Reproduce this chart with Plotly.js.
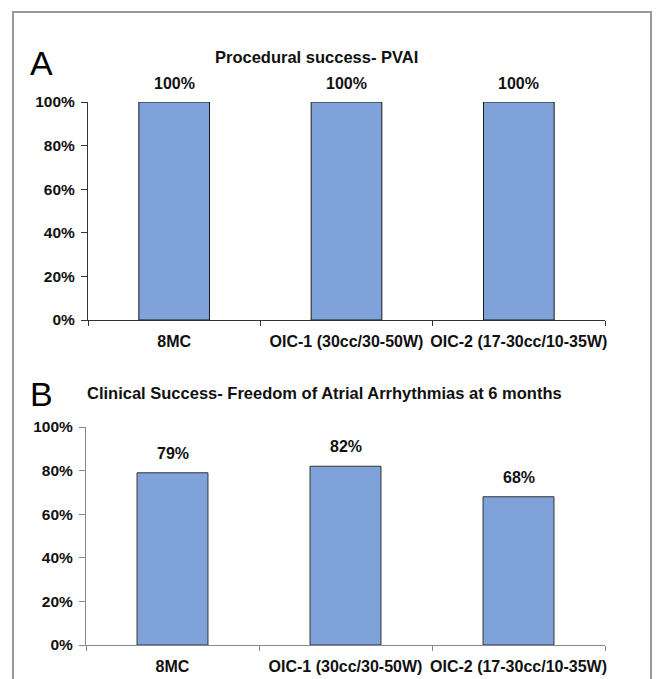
<!DOCTYPE html>
<html>
<head>
<meta charset="utf-8">
<script src="https://cdn.plot.ly/plotly-3.0.1.min.js"></script>
<style>html,body{margin:0;padding:0;background:#fff;}#chart{width:658px;height:679px;}</style>
</head>
<body>
<div id="chart"></div>
<script>
const categories = ['8MC', 'OIC-1 (30cc/30-50W)', 'OIC-2 (17-30cc/10-35W)'];
const proceduralSuccess = [100, 100, 100];
const clinicalSuccess = [79, 82, 68];
const yTickVals = [0, 20, 40, 60, 80, 100];
const yTickText = ['0%', '20%', '40%', '60%', '80%', '100%'];
const titleA = 'Procedural success- PVAI';
const titleB = 'Clinical Success- Freedom of Atrial Arrhythmias at 6 months';

const W = 658, H = 679;
const px = v => v / W;
const py = v => (H - v) / H;
const FONT = 'Liberation Sans, Arial, sans-serif';
const barColor = '#7ea2d9';

const traces = [
  {type: 'bar', x: categories, y: proceduralSuccess, xaxis: 'x', yaxis: 'y',
   width: 0.41, marker: {color: barColor, line: {color: '#1a1a1a', width: 1}}, hoverinfo: 'none'},
  {type: 'bar', x: categories, y: clinicalSuccess, xaxis: 'x2', yaxis: 'y2',
   width: 0.41, marker: {color: barColor, line: {color: '#333', width: 1}}, hoverinfo: 'none'}
];

const xTickFont = {family: FONT, size: 16, color: '#111', weight: 'bold'};
const yTickFont = {family: FONT, size: 15.5, color: '#111', weight: 'bold'};
const valueFont = {family: FONT, size: 16, color: '#111', weight: 'bold'};
const titleFont = {family: FONT, size: 16.5, color: '#111', weight: 'bold'};

function xAxis(domain, anchor, lineColor) {
  return {domain: domain, anchor: anchor, type: 'category', showgrid: false, zeroline: false,
    showline: true, linecolor: lineColor, linewidth: 1, ticks: 'outside', tickson: 'boundaries',
    ticklen: 5, tickcolor: lineColor, tickfont: xTickFont, tickangle: 0, ticklabelstandoff: 7, fixedrange: true};
}
function yAxis(domain, anchor, lineColor) {
  return {domain: domain, anchor: anchor, range: [0, 100], tickvals: yTickVals, ticktext: yTickText,
    showgrid: false, zeroline: false, showline: true, linecolor: lineColor, linewidth: 1,
    ticks: 'outside', ticklen: 6, tickcolor: lineColor, tickfont: yTickFont, ticklabelstandoff: 3, fixedrange: true};
}

const annotations = [];
categories.forEach((c, i) => {
  annotations.push({xref: 'x', yref: 'y', x: c, y: proceduralSuccess[i], text: proceduralSuccess[i] + '%',
    showarrow: false, yanchor: 'bottom', yshift: 8, font: valueFont});
  annotations.push({xref: 'x2', yref: 'y2', x: c, y: clinicalSuccess[i], text: clinicalSuccess[i] + '%',
    showarrow: false, yanchor: 'bottom', yshift: 9, font: valueFont});
});
annotations.push({xref: 'paper', yref: 'paper', x: px(316.5), y: py(57), text: titleA, showarrow: false,
  xanchor: 'center', yanchor: 'middle', font: titleFont});
annotations.push({xref: 'paper', yref: 'paper', x: px(85), y: py(393), text: titleB, showarrow: false,
  xanchor: 'left', yanchor: 'middle', font: titleFont});
annotations.push({xref: 'paper', yref: 'paper', x: px(28), y: py(63), text: 'A', showarrow: false,
  xanchor: 'left', yanchor: 'middle', font: {family: FONT, size: 34, color: '#000'}});
annotations.push({xref: 'paper', yref: 'paper', x: px(28), y: py(394), text: 'B', showarrow: false,
  xanchor: 'left', yanchor: 'middle', font: {family: FONT, size: 34, color: '#000'}});

const layout = {
  width: W, height: H,
  margin: {l: 0, r: 0, t: 0, b: 0},
  paper_bgcolor: '#ffffff', plot_bgcolor: 'rgba(0,0,0,0)',
  showlegend: false,
  xaxis: xAxis([px(88), px(605)], 'y', '#333'),
  yaxis: yAxis([py(320), py(102)], 'x', '#333'),
  xaxis2: xAxis([px(86), px(605)], 'y2', '#888'),
  yaxis2: yAxis([py(645), py(427)], 'x2', '#888'),
  annotations: annotations,
  shapes: [{type: 'rect', xref: 'paper', yref: 'paper', x0: px(13), x1: px(651), y0: -0.02, y1: py(12),
    line: {color: '#999', width: 2}, fillcolor: 'rgba(0,0,0,0)', layer: 'below'}]
};

Plotly.newPlot('chart', traces, layout, {displayModeBar: false, staticPlot: true});
</script>
</body>
</html>
